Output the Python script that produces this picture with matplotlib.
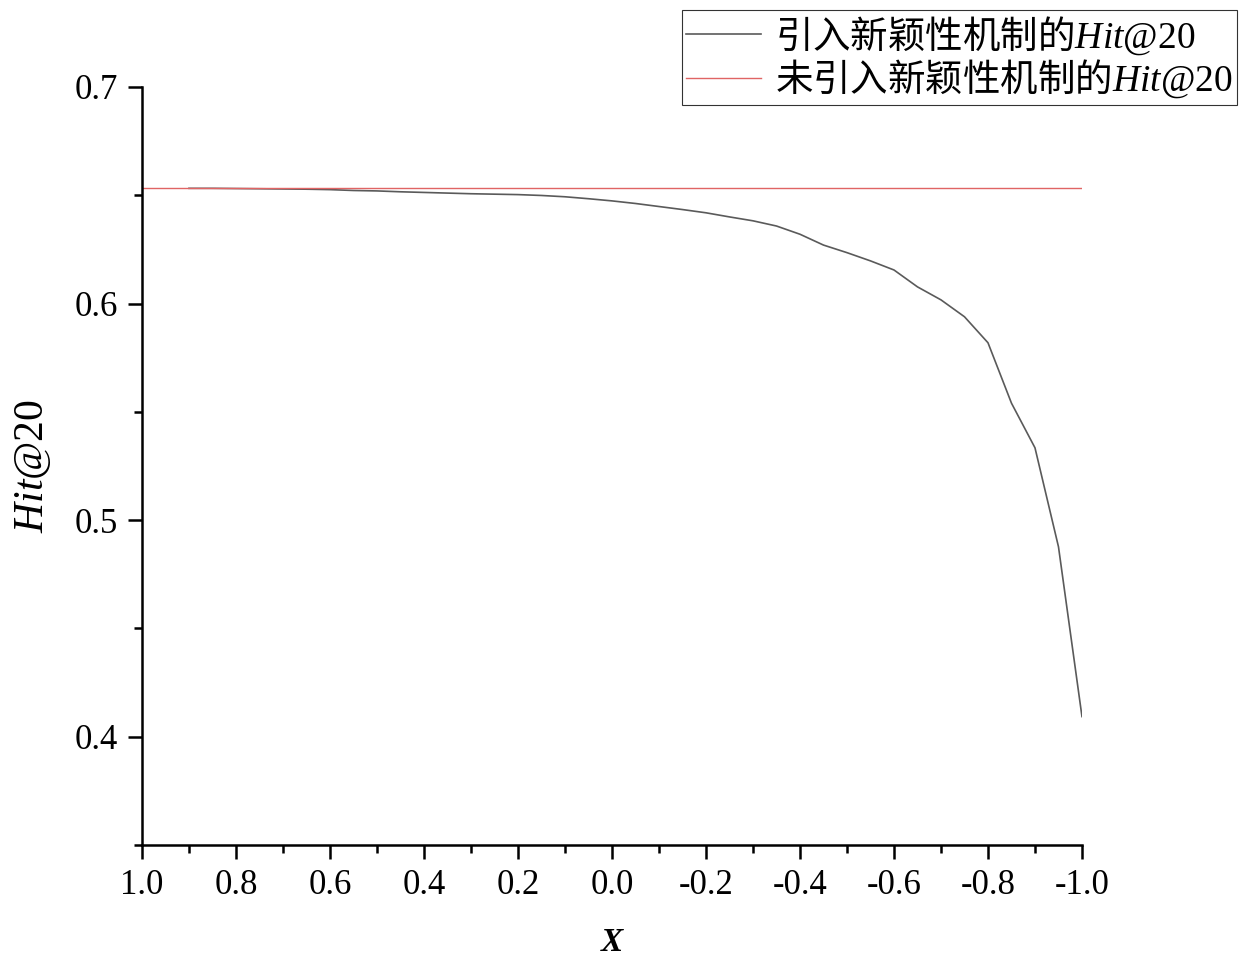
import numpy as np
import matplotlib
matplotlib.use("Agg")
import matplotlib.pyplot as plt
from matplotlib.ticker import MultipleLocator, FormatStrFormatter

plt.rcParams['font.family'] = ['Liberation Serif', 'Noto Sans CJK SC']
plt.rcParams['axes.unicode_minus'] = False
plt.rcParams['mathtext.fontset'] = 'custom'
plt.rcParams['mathtext.rm'] = 'Liberation Serif'
plt.rcParams['mathtext.it'] = 'Liberation Serif:italic'

# ---- data -----------------------------------------------------
x_vals = [0.9, 0.85, 0.8, 0.75, 0.7, 0.65, 0.6, 0.55, 0.5, 0.45,
          0.4, 0.35, 0.3, 0.25, 0.2, 0.15, 0.1, 0.05, 0.0, -0.05,
          -0.1, -0.15, -0.2, -0.25, -0.3, -0.35, -0.4, -0.45, -0.5, -0.55,
          -0.6, -0.65, -0.7, -0.75, -0.8, -0.85, -0.9, -0.95, -1.0]
hit_novelty = [0.6532, 0.6532, 0.6531, 0.6530, 0.6529, 0.6528, 0.6526, 0.6522, 0.6520, 0.6516,
               0.6513, 0.6510, 0.6507, 0.6505, 0.6503, 0.6499, 0.6493, 0.6484, 0.6474, 0.6462,
               0.6448, 0.6434, 0.6419, 0.6400, 0.6382, 0.6358, 0.6320, 0.6270, 0.6235, 0.6197,
               0.6155, 0.6077, 0.6017, 0.5939, 0.5819, 0.5540, 0.5334, 0.4877, 0.4093]
base_x = [1.0, -1.0]
hit_base = [0.6533, 0.6533]

labels = ['引入新颖性机制的$\\mathit{Hit@}\\mathrm{20}$',
          '未引入新颖性机制的$\\mathit{Hit@}\\mathrm{20}$']

fig = plt.figure(figsize=(12.52, 9.63), dpi=100)
ax = fig.add_axes([0.1134, 0.1225, 0.7508, 0.7872])

ax.plot(x_vals, hit_novelty, color='#5a5a5a', lw=1.2, label=labels[0])
ax.plot(base_x, hit_base, color='#e06464', lw=1.0, label=labels[1])

ax.set_xlim(1.0, -1.0)
ax.set_ylim(0.35, 0.7)
ax.xaxis.set_major_locator(MultipleLocator(0.2))
ax.xaxis.set_minor_locator(MultipleLocator(0.1))
ax.yaxis.set_major_locator(MultipleLocator(0.1))
ax.yaxis.set_minor_locator(MultipleLocator(0.05))
ax.xaxis.set_major_formatter(FormatStrFormatter('%.1f'))
ax.yaxis.set_major_formatter(FormatStrFormatter('%.1f'))

for s in ['top', 'right']:
    ax.spines[s].set_visible(False)
for s in ['left', 'bottom']:
    ax.spines[s].set_linewidth(1.8)
ax.tick_params(which='major', length=10, width=1.8, labelsize=25, pad=7)
ax.tick_params(which='minor', length=6, width=1.8)

ax.set_ylabel('$\\mathit{Hit@}\\mathrm{20}$', fontsize=30)
ax.yaxis.set_label_coords(-0.095, 0.5)
ax.set_xlabel('X', fontsize=24, style='italic', weight='bold')
ax.xaxis.set_label_coords(0.5, -0.108)

# legend sits outside the axes, top right of the figure
leg = ax.legend(loc='upper right', bbox_to_anchor=(0.988, 0.99),
                bbox_transform=fig.transFigure, fancybox=False,
                prop={'family': 'Noto Sans CJK SC', 'size': 27},
                handlelength=2.0, handletextpad=0.35, labelspacing=0.02,
                borderpad=0.12, borderaxespad=0)
leg.get_frame().set_edgecolor('black')
leg.get_frame().set_linewidth(0.8)

fig.savefig('out.png', dpi=100)
